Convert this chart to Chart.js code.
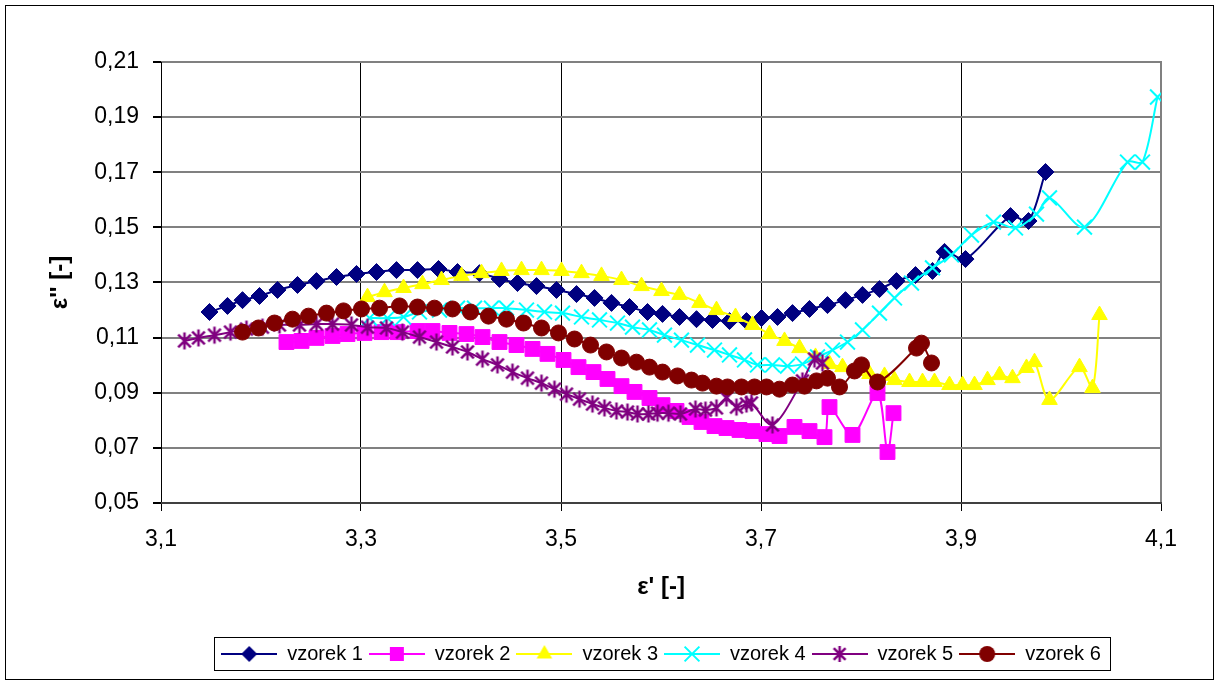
<!DOCTYPE html>
<html>
<head>
<meta charset="utf-8">
<script src="https://cdn.jsdelivr.net/npm/chart.js@4.4.1/dist/chart.umd.min.js"></script>
<style>
  html, body { margin: 0; padding: 0; background: #ffffff; }
  canvas { display: block; }
</style>
</head>
<body>
<canvas id="chart" width="1219" height="685"></canvas>
<script>
// Series names and axis ticks
const seriesNames = ['vzorek 1', 'vzorek 2', 'vzorek 3', 'vzorek 4', 'vzorek 5', 'vzorek 6'];
const xTicks = [3.1, 3.3, 3.5, 3.7, 3.9, 4.1];
const yTicks = [0.05, 0.07, 0.09, 0.11, 0.13, 0.15, 0.17, 0.19, 0.21];

// ε' (x) and ε'' (y) for every sample
const vzorek1X = [3.1485, 3.1665, 3.1815, 3.1985, 3.2165, 3.2365, 3.2555, 3.2755, 3.2955, 3.3155, 3.3355, 3.3565, 3.3775, 3.3965, 3.4185, 3.4385, 3.4565, 3.4755, 3.4955, 3.5155, 3.5335, 3.5505, 3.5685, 3.5865, 3.6015, 3.6185, 3.6355, 3.6515, 3.6685, 3.6855, 3.7005, 3.7165, 3.7315, 3.7485, 3.7665, 3.7845, 3.8015, 3.8185, 3.8355, 3.8545, 3.8715, 3.8835, 3.9045, 3.9495, 3.9675, 3.9845];
const vzorek1Y = [0.1193, 0.1215, 0.1236, 0.1251, 0.1273, 0.1291, 0.1305, 0.1320, 0.1331, 0.1338, 0.1345, 0.1345, 0.1349, 0.1338, 0.1334, 0.1313, 0.1298, 0.1287, 0.1273, 0.1258, 0.1244, 0.1226, 0.1211, 0.1193, 0.1186, 0.1175, 0.1167, 0.1164, 0.1160, 0.1160, 0.1171, 0.1175, 0.1189, 0.1204, 0.1218, 0.1236, 0.1255, 0.1276, 0.1305, 0.1327, 0.1342, 0.1411, 0.1385, 0.1541, 0.1523, 0.1701];

const vzorek2X = [3.2255, 3.2405, 3.2555, 3.2715, 3.2865, 3.3035, 3.3205, 3.3365, 3.3565, 3.3715, 3.3885, 3.4055, 3.4215, 3.4385, 3.4555, 3.4715, 3.4865, 3.5025, 3.5175, 3.5325, 3.5465, 3.5605, 3.5735, 3.5885, 3.6015, 3.6155, 3.6285, 3.6405, 3.6535, 3.6655, 3.6785, 3.6915, 3.7055, 3.7185, 3.7335, 3.7485, 3.7635, 3.7685, 3.7915, 3.8165, 3.8265, 3.8325];
const vzorek2Y = [0.1084, 0.1088, 0.1099, 0.1106, 0.1113, 0.1117, 0.1120, 0.1120, 0.1124, 0.1124, 0.1117, 0.1113, 0.1102, 0.1084, 0.1073, 0.1059, 0.1041, 0.1019, 0.0993, 0.0975, 0.0950, 0.0924, 0.0903, 0.0881, 0.0855, 0.0834, 0.0812, 0.0794, 0.0779, 0.0772, 0.0765, 0.0761, 0.0750, 0.0743, 0.0776, 0.0761, 0.0739, 0.0848, 0.0747, 0.0899, 0.0685, 0.0826];

const vzorek3X = [3.3065, 3.3235, 3.3425, 3.3615, 3.3805, 3.4005, 3.4205, 3.4405, 3.4605, 3.4805, 3.5005, 3.5205, 3.5405, 3.5605, 3.5805, 3.6005, 3.6185, 3.6385, 3.6555, 3.6745, 3.6915, 3.7085, 3.7235, 3.7385, 3.7545, 3.7685, 3.7815, 3.7955, 3.8085, 3.8235, 3.8335, 3.8485, 3.8615, 3.8735, 3.8885, 3.9015, 3.9135, 3.9265, 3.9385, 3.9515, 3.9655, 3.9735, 3.9885, 4.0185, 4.0315, 4.0385];
const vzorek3Y = [0.1247, 0.1265, 0.1280, 0.1294, 0.1309, 0.1324, 0.1334, 0.1342, 0.1345, 0.1345, 0.1342, 0.1334, 0.1324, 0.1309, 0.1287, 0.1269, 0.1255, 0.1226, 0.1200, 0.1175, 0.1146, 0.1113, 0.1088, 0.1062, 0.1030, 0.1004, 0.0993, 0.0979, 0.0968, 0.0961, 0.0946, 0.0939, 0.0939, 0.0939, 0.0928, 0.0928, 0.0928, 0.0946, 0.0964, 0.0953, 0.0990, 0.1011, 0.0874, 0.0993, 0.0917, 0.1182];

const vzorek4X = [3.3085, 3.3265, 3.3425, 3.3585, 3.3785, 3.3965, 3.4135, 3.4305, 3.4455, 3.4655, 3.4835, 3.5015, 3.5205, 3.5385, 3.5565, 3.5715, 3.5885, 3.6035, 3.6205, 3.6365, 3.6535, 3.6685, 3.6835, 3.6965, 3.7115, 3.7265, 3.7415, 3.7565, 3.7715, 3.7865, 3.8015, 3.8185, 3.8335, 3.8505, 3.8715, 3.8905, 3.9105, 3.9325, 3.9545, 3.9755, 3.9885, 4.0235, 4.0665, 4.0815, 4.0965];
const vzorek4Y = [0.1171, 0.1171, 0.1175, 0.1193, 0.1200, 0.1207, 0.1207, 0.1207, 0.1207, 0.1200, 0.1193, 0.1189, 0.1175, 0.1164, 0.1153, 0.1138, 0.1128, 0.1109, 0.1091, 0.1073, 0.1055, 0.1037, 0.1019, 0.1001, 0.1001, 0.0997, 0.1004, 0.1030, 0.1055, 0.1084, 0.1128, 0.1189, 0.1244, 0.1298, 0.1353, 0.1400, 0.1472, 0.1519, 0.1498, 0.1548, 0.1607, 0.1501, 0.1737, 0.1737, 0.1973];

const vzorek5X = [3.1235, 3.1375, 3.1535, 3.1695, 3.1855, 3.2015, 3.2185, 3.2385, 3.2555, 3.2715, 3.2905, 3.3065, 3.3255, 3.3415, 3.3585, 3.3755, 3.3915, 3.4065, 3.4215, 3.4365, 3.4515, 3.4665, 3.4805, 3.4935, 3.5055, 3.5185, 3.5315, 3.5435, 3.5555, 3.5665, 3.5765, 3.5875, 3.5965, 3.6075, 3.6195, 3.6345, 3.6445, 3.6555, 3.6655, 3.6755, 3.6855, 3.6905, 3.7115, 3.7415, 3.7535, 3.7615];
const vzorek5Y = [0.1088, 0.1099, 0.1109, 0.1120, 0.1131, 0.1138, 0.1146, 0.1146, 0.1149, 0.1149, 0.1146, 0.1138, 0.1135, 0.1120, 0.1102, 0.1084, 0.1066, 0.1048, 0.1022, 0.1001, 0.0975, 0.0953, 0.0935, 0.0913, 0.0895, 0.0877, 0.0859, 0.0845, 0.0834, 0.0830, 0.0823, 0.0823, 0.0826, 0.0826, 0.0823, 0.0841, 0.0837, 0.0845, 0.0881, 0.0848, 0.0859, 0.0863, 0.0783, 0.0943, 0.1022, 0.1008];

const vzorek6X = [3.1815, 3.1975, 3.2135, 3.2315, 3.2475, 3.2655, 3.2825, 3.3005, 3.3185, 3.3385, 3.3565, 3.3735, 3.3915, 3.4095, 3.4275, 3.4455, 3.4625, 3.4805, 3.4975, 3.5135, 3.5295, 3.5455, 3.5605, 3.5755, 3.5885, 3.6015, 3.6165, 3.6305, 3.6415, 3.6555, 3.6665, 3.6805, 3.6935, 3.7055, 3.7185, 3.7315, 3.7435, 3.7555, 3.7665, 3.7785, 3.7935, 3.8005, 3.8165, 3.8555, 3.8605, 3.8705];
const vzorek6Y = [0.1120, 0.1135, 0.1153, 0.1167, 0.1178, 0.1189, 0.1197, 0.1204, 0.1207, 0.1215, 0.1211, 0.1207, 0.1204, 0.1193, 0.1178, 0.1167, 0.1153, 0.1135, 0.1117, 0.1095, 0.1073, 0.1048, 0.1026, 0.1011, 0.0993, 0.0975, 0.0961, 0.0946, 0.0935, 0.0924, 0.0921, 0.0921, 0.0921, 0.0921, 0.0913, 0.0928, 0.0924, 0.0943, 0.0953, 0.0921, 0.0979, 0.1001, 0.0939, 0.1062, 0.1080, 0.1008];

const seriesX = [vzorek1X, vzorek2X, vzorek3X, vzorek4X, vzorek5X, vzorek6X];
const seriesY = [vzorek1Y, vzorek2Y, vzorek3Y, vzorek4Y, vzorek5Y, vzorek6Y];

const colors = ['#000080', '#FF00FF', '#FFFF00', '#00FFFF', '#800080', '#800000'];
const FONT = "'Liberation Sans', Arial, sans-serif";

// Six-spoke asterisk marker (X plus a vertical bar)
function asteriskMarker(color, size) {
  const c = document.createElement('canvas');
  c.width = size; c.height = size;
  const g = c.getContext('2d');
  const m = size / 2, a = size / 2 - 1.5, d = a * 0.74;
  g.strokeStyle = color; g.lineWidth = 2.5; g.lineCap = 'butt';
  g.beginPath();
  g.moveTo(m, m - a); g.lineTo(m, m + a);
  g.moveTo(m - d, m - d); g.lineTo(m + d, m + d);
  g.moveTo(m + d, m - d); g.lineTo(m - d, m + d);
  g.stroke();
  return c;
}

// Marker shape drawn onto a 2D context, used for legend samples
function drawMarker(g, kind, x, y, color) {
  g.fillStyle = color; g.strokeStyle = color;
  g.beginPath();
  if (kind === 'diamond') {
    const r = 8;
    g.moveTo(x, y - r); g.lineTo(x + r, y); g.lineTo(x, y + r); g.lineTo(x - r, y); g.closePath(); g.fill();
  } else if (kind === 'square') {
    const s = 7;
    g.rect(x - s, y - s, 2 * s, 2 * s); g.fill();
  } else if (kind === 'triangle') {
    const r = 9;
    g.moveTo(x, y - r);
    g.lineTo(x + r * Math.sin(2 * Math.PI / 3), y - r * Math.cos(2 * Math.PI / 3));
    g.lineTo(x + r * Math.sin(4 * Math.PI / 3), y - r * Math.cos(4 * Math.PI / 3));
    g.closePath(); g.fill();
  } else if (kind === 'x') {
    const d = 7.4;
    g.lineWidth = 2;
    g.moveTo(x - d, y - d); g.lineTo(x + d, y + d);
    g.moveTo(x + d, y - d); g.lineTo(x - d, y + d); g.stroke();
  } else if (kind === 'asterisk') {
    const a = 8, d = a * 0.74;
    g.lineWidth = 2.5;
    g.moveTo(x, y - a); g.lineTo(x, y + a);
    g.moveTo(x - d, y - d); g.lineTo(x + d, y + d);
    g.moveTo(x + d, y - d); g.lineTo(x - d, y + d); g.stroke();
  } else if (kind === 'circle') {
    g.arc(x, y, 8, 0, Math.PI * 2); g.fill();
  }
}

const markerKinds = ['diamond', 'square', 'triangle', 'x', 'asterisk', 'circle'];

// Legend sample: line segment with the marker in its middle
function legendSample(color, kind) {
  const c = document.createElement('canvas');
  c.width = 56; c.height = 20;
  const g = c.getContext('2d');
  g.strokeStyle = color; g.lineWidth = 2;
  g.beginPath(); g.moveTo(0, 10); g.lineTo(56, 10); g.stroke();
  drawMarker(g, kind, 28, 10, color);
  return c;
}

const pointStyles = ['rectRot', 'rect', 'triangle', 'crossRot', asteriskMarker(colors[4], 20), 'circle'];
const pointRadii = [8.5, 10.5, 9, 10.5, 9, 8];

const datasets = seriesNames.map((name, i) => ({
  label: name,
  data: seriesX[i].map((x, k) => ({ x: x, y: seriesY[i][k] })),
  showLine: true,
  borderColor: colors[i],
  backgroundColor: colors[i],
  borderWidth: 2,
  tension: 0.3,
  pointStyle: pointStyles[i],
  pointRadius: pointRadii[i],
  pointHoverRadius: pointRadii[i],
  pointBackgroundColor: colors[i],
  pointBorderColor: colors[i],
  pointBorderWidth: i === 3 ? 2 : 1,
  order: seriesNames.length - i
}));

const legendIcons = seriesNames.map((n, i) => legendSample(colors[i], markerKinds[i]));

// Frame around the whole chart, plot area border and legend box
const framePlugin = {
  id: 'frames',
  beforeDatasetsDraw(chart) {
    const { ctx, chartArea: a } = chart;
    ctx.save();
    ctx.strokeStyle = '#808080';
    ctx.lineWidth = 2;
    ctx.beginPath();
    ctx.moveTo(a.left, a.top); ctx.lineTo(a.right, a.top); ctx.lineTo(a.right, a.bottom);
    ctx.stroke();
    ctx.strokeStyle = '#000000';
    ctx.lineWidth = 1;
    ctx.beginPath();
    ctx.moveTo(Math.round(a.left) + 0.5, a.top); ctx.lineTo(Math.round(a.left) + 0.5, a.bottom);
    ctx.stroke();
    ctx.strokeStyle = '#404040';
    ctx.lineWidth = 2;
    ctx.beginPath();
    ctx.moveTo(a.left, a.bottom); ctx.lineTo(a.right + 1, a.bottom);
    ctx.stroke();
    ctx.restore();
  },
  afterDraw(chart) {
    const { ctx } = chart;
    ctx.save();
    ctx.strokeStyle = '#000000';
    ctx.lineWidth = 1;
    ctx.strokeRect(5.5, 5.5, 1208, 674);
    const hb = chart.legend.legendHitBoxes;
    if (hb && hb.length) {
      const first = hb[0], last = hb[hb.length - 1];
      const cy = first.top + first.height / 2;
      const l = Math.round(first.left - 7) + 0.5;
      const r = Math.round(last.left + last.width + 9) + 0.5;
      ctx.strokeRect(l, Math.round(cy - 17) + 0.5, r - l, 33);
    }
    ctx.restore();
  }
};

const fmt = (digits) => (v) => Number(v).toFixed(digits).replace('.', ',');

new Chart(document.getElementById('chart'), {
  type: 'scatter',
  data: { datasets: datasets },
  plugins: [framePlugin],
  options: {
    responsive: false,
    animation: false,
    devicePixelRatio: 1,
    layout: { padding: { left: 0, right: 58, top: 62, bottom: 11 } },
    plugins: {
      tooltip: { enabled: false },
      legend: {
        position: 'bottom',
        fullSize: false,
        labels: {
          font: { family: FONT, size: 20 },
          color: '#000000',
          usePointStyle: true,
          pointStyleWidth: 56,
          padding: 6,
          generateLabels(chart) {
            return chart.data.datasets.map((ds, i) => ({
              text: ds.label,
              pointStyle: legendIcons[i],
              fillStyle: colors[i],
              strokeStyle: colors[i],
              lineWidth: 0,
              fontColor: '#000000',
              hidden: false,
              datasetIndex: i
            }));
          }
        }
      }
    },
    scales: {
      x: {
        type: 'linear',
        min: 3.1,
        max: 4.1,
        afterBuildTicks(scale) { scale.ticks = xTicks.map(v => ({ value: v })); },
        afterFit(scale) { scale.height = 135; },
        border: { display: false },
        grid: {
          color: (c) => (c.index === 0 || c.index === xTicks.length - 1) ? 'rgba(0,0,0,0)' : '#000000',
          lineWidth: 1,
          tickColor: '#000000',
          tickLength: 8,
          drawTicks: true
        },
        ticks: {
          callback: fmt(1),
          font: { family: FONT, size: 23 },
          color: '#000000',
          padding: 15,
          maxRotation: 0
        },
        title: {
          display: true,
          text: 'ε\' [-]',
          font: { family: FONT, size: 24, weight: 'bold' },
          color: '#000000',
          padding: { top: 0, bottom: 36 }
        }
      },
      y: {
        type: 'linear',
        min: 0.05,
        max: 0.21,
        afterBuildTicks(scale) { scale.ticks = yTicks.map(v => ({ value: v })); },
        afterFit(scale) { scale.width = 161; },
        border: { display: false },
        grid: {
          color: (c) => (c.index === 0 || c.index === yTicks.length - 1) ? 'rgba(0,0,0,0)' : '#808080',
          lineWidth: 2,
          tickColor: '#000000',
          tickLength: 8
        },
        ticks: {
          callback: fmt(2),
          font: { family: FONT, size: 23 },
          color: '#000000',
          padding: 14
        },
        title: {
          display: true,
          text: 'ε\'\' [-]',
          font: { family: FONT, size: 24, weight: 'bold' },
          color: '#000000',
          padding: { top: 46, bottom: 0 }
        }
      }
    }
  }
});
</script>
</body>
</html>
